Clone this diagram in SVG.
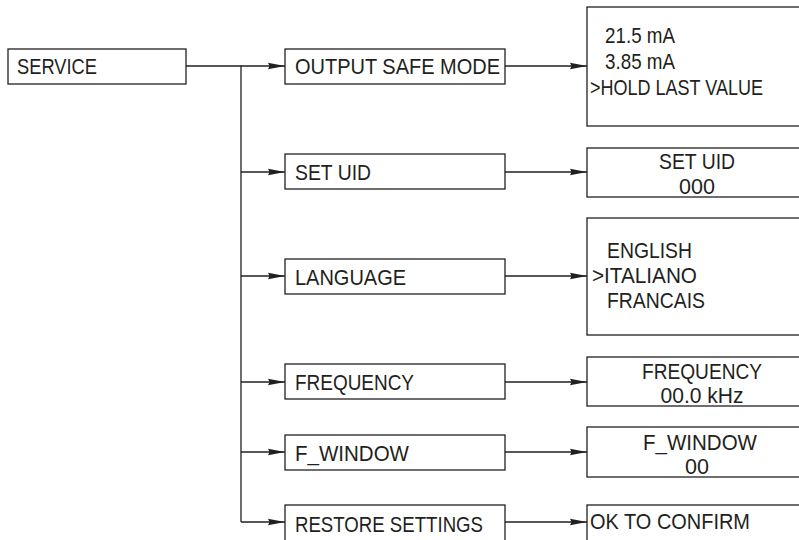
<svg xmlns="http://www.w3.org/2000/svg" width="799" height="540" viewBox="0 0 799 540">
<defs>
<marker id="arr" markerUnits="userSpaceOnUse" markerWidth="18" markerHeight="8" refX="17" refY="4" orient="auto">
<path d="M0,0.8 L17,4 L0,7.2 L1.5,4 z" fill="#231f20"/>
</marker>
<style>
.box{fill:#fff;stroke:#231f20;stroke-width:1.3}
.t{font-family:"Liberation Sans",Arial,sans-serif;font-size:21.5px;fill:#231f20}
.c{text-anchor:middle}
.ln{fill:none;stroke:#231f20;stroke-width:1.3}
</style>
</defs>
<rect width="799" height="540" fill="#fff"/>
<g id="connectors">
<path class="ln" d="M186,66 H241 V522"/>
<path class="ln" marker-end="url(#arr)" d="M241,66 H285"/>
<path class="ln" marker-end="url(#arr)" d="M241,172 H285"/>
<path class="ln" marker-end="url(#arr)" d="M241,276 H285"/>
<path class="ln" marker-end="url(#arr)" d="M241,382 H285"/>
<path class="ln" marker-end="url(#arr)" d="M241,452 H285"/>
<path class="ln" marker-end="url(#arr)" d="M241,522 H285"/>
<path class="ln" marker-end="url(#arr)" d="M505,66 H587"/>
<path class="ln" marker-end="url(#arr)" d="M505,172 H587"/>
<path class="ln" marker-end="url(#arr)" d="M505,276 H587"/>
<path class="ln" marker-end="url(#arr)" d="M505,382 H587"/>
<path class="ln" marker-end="url(#arr)" d="M505,452 H587"/>
<path class="ln" marker-end="url(#arr)" d="M505,522 H587"/>
</g>
<g id="service">
<rect class="box" x="8" y="49" width="178" height="35"/>
<text class="t" x="17" y="74" textLength="80" lengthAdjust="spacingAndGlyphs">SERVICE</text>
</g>
<g id="output-safe-mode">
<rect class="box" x="285" y="49" width="220" height="35"/>
<text class="t" x="295" y="74" textLength="205" lengthAdjust="spacingAndGlyphs">OUTPUT SAFE MODE</text>
</g>
<g id="set-uid">
<rect class="box" x="285" y="154" width="220" height="35"/>
<text class="t" x="295" y="180" textLength="76" lengthAdjust="spacingAndGlyphs">SET UID</text>
</g>
<g id="language">
<rect class="box" x="285" y="259" width="220" height="35"/>
<text class="t" x="295" y="285" textLength="111" lengthAdjust="spacingAndGlyphs">LANGUAGE</text>
</g>
<g id="frequency">
<rect class="box" x="285" y="364" width="220" height="35"/>
<text class="t" x="295" y="390" textLength="119" lengthAdjust="spacingAndGlyphs">FREQUENCY</text>
</g>
<g id="f-window">
<rect class="box" x="285" y="435" width="220" height="35"/>
<text class="t" x="295" y="461" textLength="114" lengthAdjust="spacingAndGlyphs">F_WINDOW</text>
</g>
<g id="restore-settings">
<rect class="box" x="285" y="505" width="220" height="40"/>
<text class="t" x="295" y="532" textLength="188" lengthAdjust="spacingAndGlyphs">RESTORE SETTINGS</text>
</g>
<g id="safe-mode-options">
<rect class="box" x="587" y="7" width="225" height="119"/>
<text class="t" x="605" y="43" textLength="70" lengthAdjust="spacingAndGlyphs">21.5 mA</text>
<text class="t" x="605" y="69" textLength="70" lengthAdjust="spacingAndGlyphs">3.85 mA</text>
<text class="t" x="590" y="95" textLength="173" lengthAdjust="spacingAndGlyphs">&gt;HOLD LAST VALUE</text>
</g>
<g id="set-uid-value">
<rect class="box" x="587" y="148" width="225" height="49"/>
<text class="t c" x="697" y="169" textLength="76" lengthAdjust="spacingAndGlyphs">SET UID</text>
<text class="t c" x="697" y="194">000</text>
</g>
<g id="language-options">
<rect class="box" x="587" y="218" width="225" height="117"/>
<text class="t" x="607" y="258" textLength="85" lengthAdjust="spacingAndGlyphs">ENGLISH</text>
<text class="t" x="592" y="283" textLength="105" lengthAdjust="spacingAndGlyphs">&gt;ITALIANO</text>
<text class="t" x="607" y="308" textLength="98" lengthAdjust="spacingAndGlyphs">FRANCAIS</text>
</g>
<g id="frequency-value">
<rect class="box" x="587" y="357" width="225" height="49"/>
<text class="t c" x="702" y="379" textLength="120" lengthAdjust="spacingAndGlyphs">FREQUENCY</text>
<text class="t c" x="702" y="403" textLength="83" lengthAdjust="spacingAndGlyphs">00.0 kHz</text>
</g>
<g id="f-window-value">
<rect class="box" x="587" y="427" width="225" height="50"/>
<text class="t c" x="700" y="450" textLength="114" lengthAdjust="spacingAndGlyphs">F_WINDOW</text>
<text class="t c" x="697" y="474">00</text>
</g>
<g id="ok-to-confirm">
<rect class="box" x="587" y="505" width="225" height="40"/>
<text class="t" x="590" y="529" textLength="160" lengthAdjust="spacingAndGlyphs">OK TO CONFIRM</text>
</g>
</svg>
